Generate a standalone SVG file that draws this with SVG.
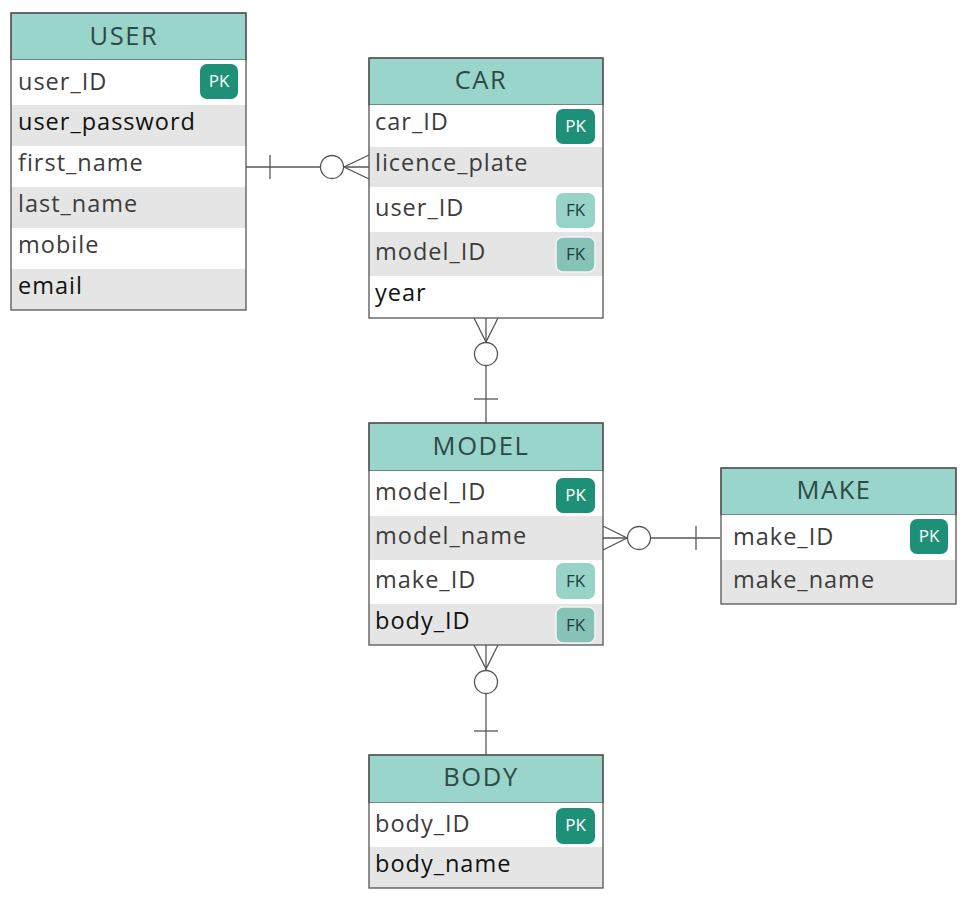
<svg xmlns="http://www.w3.org/2000/svg" width="970" height="900" viewBox="0 0 970 900">
<style>
.bg{fill:#ffffff}
.hd{fill:#99d5ca;stroke:#555;stroke-width:1.2}
.row{fill:#ffffff}
.alt{fill:#e5e5e5}
.frame{fill:none;stroke:#555;stroke-width:1.3}
.ht{font-family:"Open Sans","DejaVu Sans",sans-serif;font-size:25.5px;fill:#2e4a45;text-anchor:middle;letter-spacing:1.6px}
.t{font-family:"Open Sans","DejaVu Sans",sans-serif;font-size:23.5px;letter-spacing:1px;fill:#3c3c3c}
.tb{font-family:"Open Sans","DejaVu Sans",sans-serif;font-size:23.5px;letter-spacing:1px;fill:#111}
.pk{fill:#1f9078}
.fk{fill:#98d3c7}
.fk2{fill:#86c2b6;stroke:#f4f4f4;stroke-width:1.5}
.pkt{font-family:"Open Sans","DejaVu Sans",sans-serif;font-size:17px;fill:#ffffff;text-anchor:middle}
.fkt{font-family:"Open Sans","DejaVu Sans",sans-serif;font-size:17px;fill:#1e3f3a;text-anchor:middle}
.ln{fill:none;stroke:#555;stroke-width:1.3}
.cir{fill:#ffffff;stroke:#555;stroke-width:1.3}
</style>
<rect class="bg" x="0" y="0" width="970" height="900"/>

<g id="connectors">
  <g id="user-car">
    <line class="ln" x1="246" y1="167" x2="369" y2="167"/>
    <line class="ln" x1="270" y1="155" x2="270" y2="179"/>
    <polyline class="ln" points="369,155 344,167 369,179"/>
    <circle class="cir" cx="332" cy="167" r="11.5"/>
  </g>
  <g id="car-model">
    <line class="ln" x1="486" y1="318" x2="486" y2="423"/>
    <line class="ln" x1="474" y1="399" x2="498" y2="399"/>
    <polyline class="ln" points="474,318 486,342 498,318"/>
    <circle class="cir" cx="486" cy="354" r="11.5"/>
  </g>
  <g id="model-make">
    <line class="ln" x1="603" y1="538" x2="720" y2="538"/>
    <line class="ln" x1="696" y1="526" x2="696" y2="550"/>
    <polyline class="ln" points="603,526 627,538 603,550"/>
    <circle class="cir" cx="639" cy="538" r="11.5"/>
  </g>
  <g id="model-body">
    <line class="ln" x1="486" y1="645" x2="486" y2="755"/>
    <line class="ln" x1="474" y1="731" x2="498" y2="731"/>
    <polyline class="ln" points="474,645 486,669 498,645"/>
    <circle class="cir" cx="486" cy="682" r="11.5"/>
  </g>
</g>

<g id="USER">
  <rect class="hd" x="11" y="13" width="235" height="47"/>
  <text class="ht" x="124" y="45">USER</text>
  <rect class="row" x="11" y="60" width="235" height="45"/>
  <rect class="alt" x="11" y="105" width="235" height="41"/>
  <rect class="row" x="11" y="146" width="235" height="41"/>
  <rect class="alt" x="11" y="187" width="235" height="41"/>
  <rect class="row" x="11" y="228" width="235" height="41"/>
  <rect class="alt" x="11" y="269" width="235" height="41"/>
  <rect class="frame" x="11" y="13" width="235" height="297"/>
  <text class="t" x="18" y="90">user_ID</text>
  <rect class="pk" x="200" y="64" width="38" height="35" rx="7"/>
  <text class="pkt" x="219" y="87">PK</text>
  <text class="tb" x="18" y="130">user_password</text>
  <text class="t" x="18" y="171">first_name</text>
  <text class="t" x="18" y="212">last_name</text>
  <text class="t" x="18" y="253">mobile</text>
  <text class="tb" x="18" y="294">email</text>
</g>

<g id="CAR">
  <rect class="hd" x="369" y="58" width="234" height="47"/>
  <text class="ht" x="481" y="89">CAR</text>
  <rect class="row" x="369" y="105" width="234" height="42"/>
  <rect class="alt" x="369" y="147" width="234" height="40"/>
  <rect class="row" x="369" y="187" width="234" height="45"/>
  <rect class="alt" x="369" y="232" width="234" height="44"/>
  <rect class="row" x="369" y="276" width="234" height="42"/>
  <rect class="frame" x="369" y="58" width="234" height="260"/>
  <text class="t" x="375" y="130">car_ID</text>
  <rect class="pk" x="556" y="109" width="39" height="35" rx="7"/>
  <text class="pkt" x="575.5" y="132">PK</text>
  <text class="t" x="375" y="171">licence_plate</text>
  <text class="t" x="375" y="216">user_ID</text>
  <rect class="fk" x="556" y="193" width="39" height="35" rx="7"/>
  <text class="fkt" x="575.5" y="216">FK</text>
  <text class="t" x="375" y="260">model_ID</text>
  <rect class="fk2" x="556" y="237" width="39" height="35" rx="7"/>
  <text class="fkt" x="575.5" y="260">FK</text>
  <text class="tb" x="375" y="301">year</text>
</g>

<g id="MODEL">
  <rect class="hd" x="369" y="423" width="234" height="48"/>
  <text class="ht" x="481" y="455">MODEL</text>
  <rect class="row" x="369" y="471" width="234" height="45"/>
  <rect class="alt" x="369" y="516" width="234" height="44"/>
  <rect class="row" x="369" y="560" width="234" height="44"/>
  <rect class="alt" x="369" y="604" width="234" height="41"/>
  <rect class="frame" x="369" y="423" width="234" height="222"/>
  <text class="t" x="375" y="500">model_ID</text>
  <rect class="pk" x="556" y="478" width="39" height="35" rx="7"/>
  <text class="pkt" x="575.5" y="501">PK</text>
  <text class="t" x="375" y="544">model_name</text>
  <text class="t" x="375" y="588">make_ID</text>
  <rect class="fk" x="556" y="563" width="39" height="36" rx="7"/>
  <text class="fkt" x="575.5" y="587">FK</text>
  <text class="tb" x="375" y="629">body_ID</text>
  <rect class="fk2" x="556" y="607" width="39" height="36" rx="7"/>
  <text class="fkt" x="575.5" y="631">FK</text>
</g>

<g id="MAKE">
  <rect class="hd" x="721" y="468" width="235" height="47"/>
  <text class="ht" x="834" y="499">MAKE</text>
  <rect class="row" x="721" y="515" width="235" height="45"/>
  <rect class="alt" x="721" y="560" width="235" height="44"/>
  <rect class="frame" x="721" y="468" width="235" height="136"/>
  <text class="t" x="733" y="545">make_ID</text>
  <rect class="pk" x="910" y="519" width="38" height="35" rx="7"/>
  <text class="pkt" x="929" y="542">PK</text>
  <text class="t" x="733" y="588">make_name</text>
</g>

<g id="BODY">
  <rect class="hd" x="369" y="755" width="234" height="48"/>
  <text class="ht" x="481" y="786">BODY</text>
  <rect class="row" x="369" y="803" width="234" height="44"/>
  <rect class="alt" x="369" y="847" width="234" height="41"/>
  <rect class="frame" x="369" y="755" width="234" height="133"/>
  <text class="t" x="375" y="832">body_ID</text>
  <rect class="pk" x="556" y="808" width="39" height="36" rx="7"/>
  <text class="pkt" x="575.5" y="831">PK</text>
  <text class="tb" x="375" y="872">body_name</text>
</g>
</svg>
